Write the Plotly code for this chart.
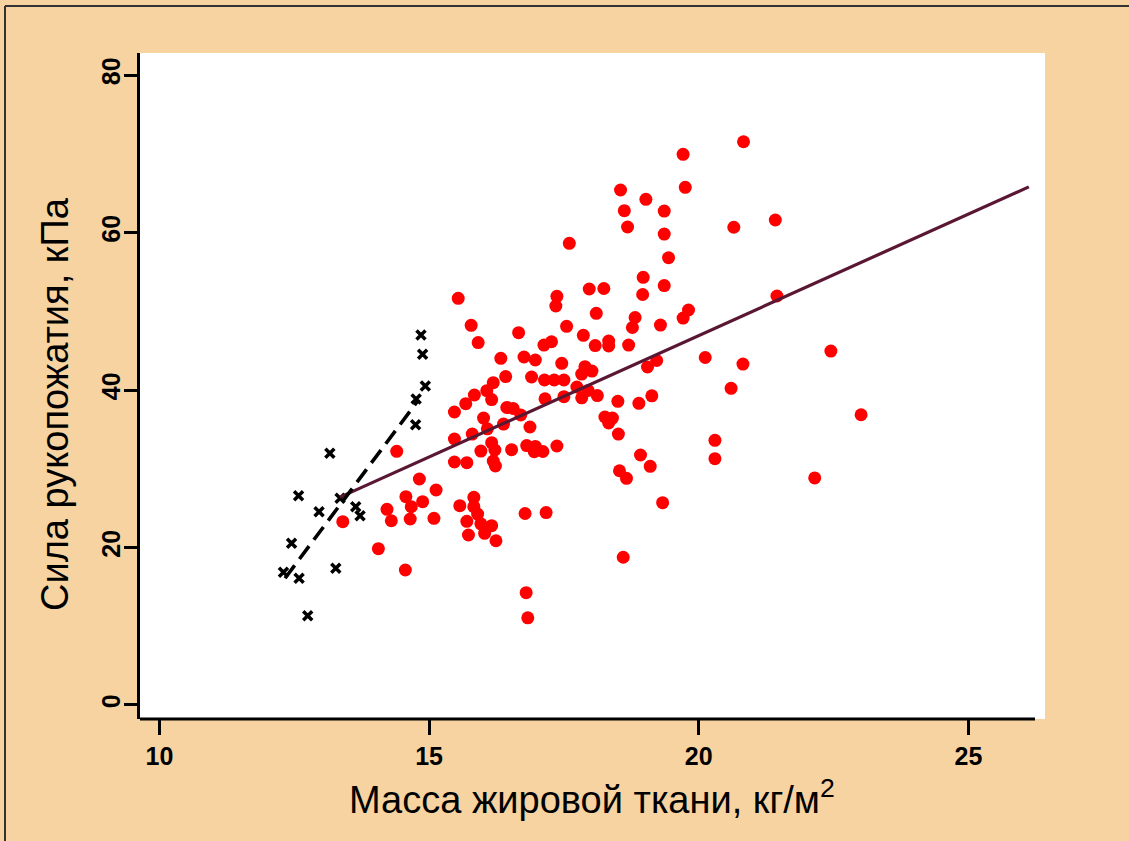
import plotly.graph_objects as go

# Red group (main sample)
red_x = [15.54, 15.78, 15.91, 16.66, 16.33, 16.76, 16.42, 16.19, 16.07, 16.16,
         15.84, 15.68, 15.47, 16.44, 16.56, 16.70, 16.01, 16.38, 16.08, 15.80,
         15.47, 16.16, 16.87, 16.81, 15.96, 16.22, 16.53, 14.40, 15.47, 15.70,
         16.19, 16.23, 14.82, 15.13, 14.57, 14.88, 14.67, 14.22, 14.30, 14.65,
         15.09, 13.40, 15.57, 15.83, 15.83, 15.90, 15.70, 15.96, 16.16, 15.73,
         16.03, 16.24, 16.78, 14.06, 14.56, 16.80, 16.83, 18.53, 18.66, 19.10,
         18.92, 20.30, 19.33, 17.17, 18.60, 17.37, 17.35, 17.97, 18.24, 18.96,
         19.36, 18.10, 18.82, 18.77, 19.29, 19.81, 19.71, 17.55, 17.86, 17.27,
         17.13, 18.08, 18.33, 18.33, 18.70, 16.97, 17.46, 17.89, 18.02, 17.83,
         19.05, 19.22, 20.12, 16.90, 17.14, 17.32, 17.50, 17.74, 17.95, 17.83,
         18.12, 17.50, 17.15, 18.50, 18.89, 19.13, 18.26, 18.40, 18.33, 18.51,
         20.30, 16.97, 16.95, 17.11, 17.37, 19.71, 19.75, 18.55, 19.02, 18.62,
         19.36, 18.68, 19.36, 17.60, 19.44, 18.97, 20.83, 20.65, 21.42, 21.45,
         20.82, 20.60, 22.45, 23.01, 22.15]
red_y = [51.64, 48.22, 46.03, 47.28, 44.03, 44.19, 41.71, 40.93, 39.91, 38.79,
         39.37, 38.26, 37.21, 37.78, 37.65, 36.83, 36.44, 35.68, 35.07, 34.41,
         33.78, 33.31, 35.30, 32.95, 32.25, 32.38, 32.42, 32.22, 30.86, 30.77,
         30.98, 30.35, 28.70, 27.30, 26.45, 25.82, 25.18, 24.85, 23.40, 23.62,
         23.71, 23.28, 25.31, 26.37, 25.18, 24.25, 23.33, 23.01, 22.77, 21.59,
         21.80, 20.86, 24.32, 19.85, 17.14, 14.26, 11.07, 29.75, 28.79, 30.31,
         31.75, 31.28, 25.69, 24.44, 18.76, 51.90, 50.67, 52.83, 52.89, 52.13,
         53.27, 49.74, 49.21, 47.94, 48.25, 50.16, 49.14, 48.09, 46.95, 46.13,
         45.71, 45.65, 46.22, 45.59, 45.71, 43.81, 43.39, 42.96, 42.41, 42.03,
         42.92, 43.75, 44.13, 41.65, 41.27, 41.27, 41.27, 40.38, 39.94, 39.01,
         39.30, 39.15, 38.88, 38.57, 38.31, 39.26, 36.57, 36.44, 35.81, 34.41,
         33.61, 32.83, 32.17, 32.19, 32.89, 69.93, 65.74, 65.40, 64.22, 62.77,
         62.73, 60.70, 59.81, 58.63, 56.80, 54.31, 71.53, 60.67, 61.59, 51.94,
         43.30, 40.22, 44.95, 36.86, 28.83]

# Black group (x markers)
blk_x = [14.85, 14.88, 14.93, 14.76, 14.75, 13.16, 12.58, 13.35, 13.64, 13.72,
         12.96, 12.45, 12.30, 12.59, 13.27, 12.75]
blk_y = [46.98, 44.53, 40.51, 38.86, 35.60, 31.96, 26.58, 26.25, 25.18, 24.04,
         24.55, 20.53, 16.85, 16.09, 17.36, 11.34]

# Regression lines (endpoints)
fit_red_x = [13.35, 26.12]
fit_red_y = [26.4, 65.8]
fit_blk_x = [12.33, 14.80]
fit_blk_y = [16.1, 38.7]

x_ticks = [10, 15, 20, 25]
y_ticks = [0, 20, 40, 60, 80]

FONT = "Arial, Liberation Sans, sans-serif"

fig = go.Figure()
fig.add_trace(go.Scatter(x=red_x, y=red_y, mode="markers",
                         marker=dict(color="#FF0000", size=13, line=dict(width=0)),
                         showlegend=False, hoverinfo="skip"))
fig.add_trace(go.Scatter(x=blk_x, y=blk_y, mode="markers",
                         marker=dict(symbol="x-thin", size=9, color="black",
                                     line=dict(width=3.5, color="black")),
                         showlegend=False, hoverinfo="skip"))
fig.add_trace(go.Scatter(x=fit_red_x, y=fit_red_y, mode="lines",
                         line=dict(color="#5A1733", width=3.2),
                         showlegend=False, hoverinfo="skip"))
fig.add_trace(go.Scatter(x=fit_blk_x, y=fit_blk_y, mode="lines",
                         line=dict(color="black", width=3.6, dash="16px,8px"),
                         showlegend=False, hoverinfo="skip"))

L, R, T, B = 140, 1045, 53, 719
W, H = 1129, 841
pw, ph = R - L, B - T

def px(x):
    return (x - L) / pw

def py(y):
    return (B - y) / ph

fig.update_layout(
    width=W, height=H,
    margin=dict(l=L, r=W - R, t=T, b=H - B),
    paper_bgcolor="#F6D3A0",
    plot_bgcolor="white",
    font=dict(family=FONT, color="black"),
    xaxis=dict(range=[9.64, 26.42], tickvals=x_ticks, showgrid=False, zeroline=False,
               showline=False, ticks="outside", ticklen=15, tickwidth=3, tickcolor="black",
               tickfont=dict(size=25, weight=700, family=FONT, color="black")),
    yaxis=dict(range=[-1.78, 82.8], tickvals=y_ticks, showgrid=False, zeroline=False,
               showline=True, linewidth=3, linecolor="black",
               ticks="outside", ticklen=13, tickwidth=3, tickcolor="black",
               tickangle=-90, ticklabelstandoff=-6,
               tickfont=dict(size=25, weight=700, family=FONT, color="black")),
    shapes=[
        dict(type="line", xref="paper", yref="paper", x0=0, x1=px(1035), y0=0, y1=0,
             line=dict(color="black", width=3)),
        dict(type="line", xref="paper", yref="paper", x0=px(5), x1=px(1300),
             y0=py(6), y1=py(6), line=dict(color="#333333", width=2), layer="above"),
        dict(type="line", xref="paper", yref="paper", x0=px(5), x1=px(5),
             y0=py(6), y1=py(900), line=dict(color="#333333", width=2), layer="above"),
    ],
    annotations=[
        dict(text="Масса жировой ткани, кг/м<sup>2</sup>", xref="paper", yref="paper",
             x=px(592), y=py(797), xanchor="center", yanchor="middle", showarrow=False,
             font=dict(size=38, family=FONT, color="black")),
        dict(text="Сила рукопожатия, кПа", xref="paper", yref="paper",
             x=px(55), y=py(404), xanchor="center", yanchor="middle", showarrow=False,
             textangle=-90, font=dict(size=38, family=FONT, color="black")),
    ],
)

fig.write_html("out.html")
